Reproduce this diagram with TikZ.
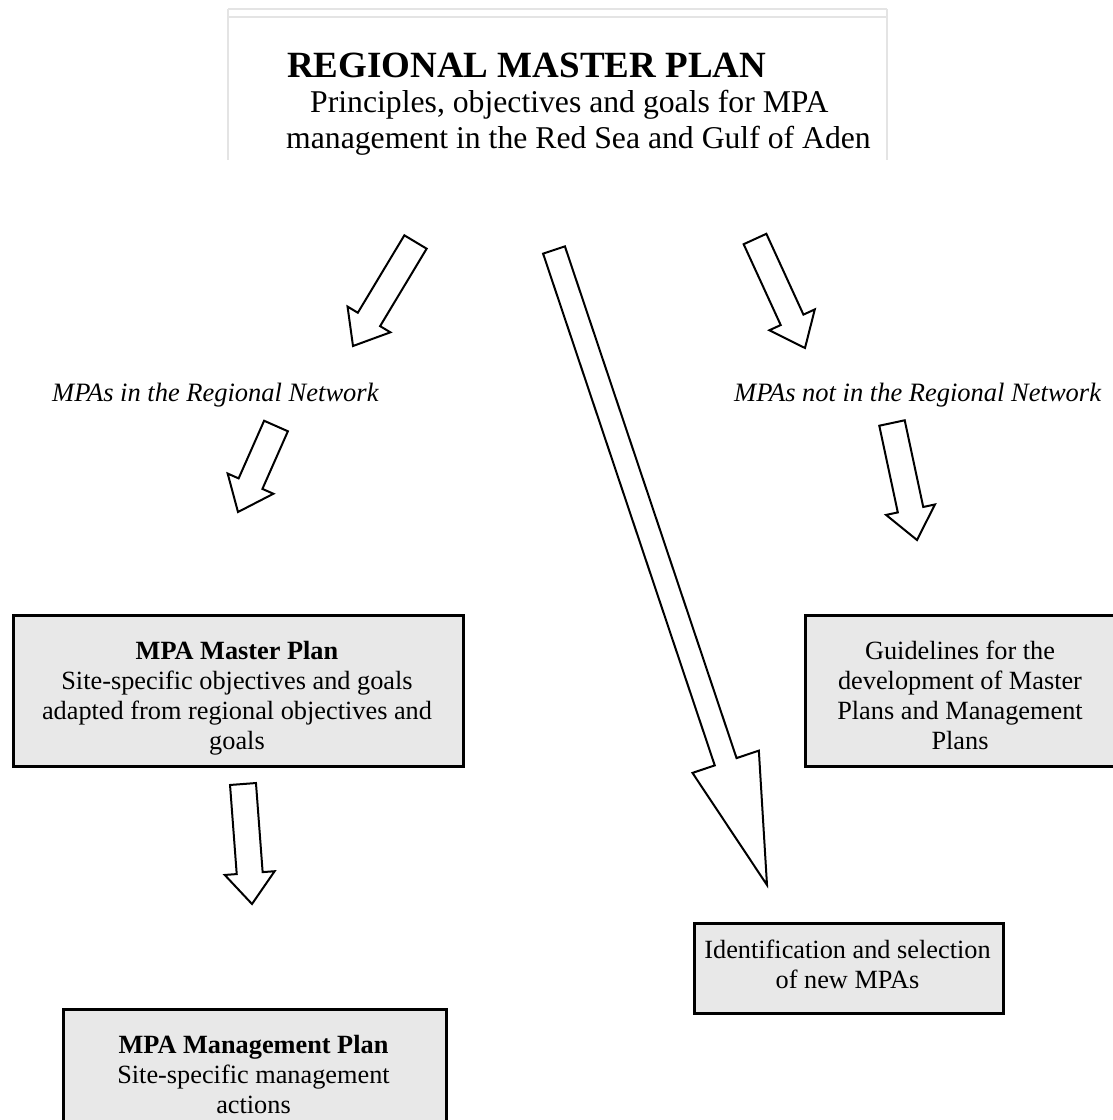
\documentclass[tikz,border=0pt]{standalone}
\usepackage{fontspec}
\setmainfont{Liberation Serif}
\usetikzlibrary{calc}
\definecolor{boxfill}{RGB}{232,232,232}
\definecolor{topline}{RGB}{228,228,228}
\newcommand\myblockarrow[5]{%
  \coordinate (#1h) at ($(#2)!#5!(#1)$);
  \draw[blockarr] ($(#1)!#3!90:(#2)$) -- ($(#1h)!#3!90:(#2)$) -- ($(#1h)!#4!90:(#2)$) -- (#2)
    -- ($(#1h)!#4!-90:(#2)$) -- ($(#1h)!#3!-90:(#2)$) -- ($(#1)!#3!-90:(#2)$) -- cycle;}
\begin{document}
\begin{tikzpicture}[x=1pt,y=1pt,
  blockarr/.style={draw=black, line width=2pt, fill=white, line join=miter},
  plainbox/.style={draw=black, line width=2.5pt, fill=boxfill, inner sep=0pt, anchor=north west},
  txt/.style={inner sep=0pt, anchor=base},
  small/.style={font=\fontsize{26.3}{30}\selectfont},
  smallb/.style={font=\fontsize{26.3}{30}\selectfont\bfseries},
  smalli/.style={font=\fontsize{26.5}{30}\selectfont\itshape},
  topfont/.style={font=\fontsize{31.7}{36}\selectfont},
]
\useasboundingbox (0,0) rectangle (1112,-1120);

% top box (light grey frame)
\draw[topline, line width=2pt] (228,-9) -- (887,-9);
\draw[topline, line width=2pt] (228,-17) -- (887,-17);
\draw[topline, line width=2pt] (228,-9) -- (228,-160);
\draw[topline, line width=2pt] (887,-9) -- (887,-160);
\node[txt, anchor=base west, font=\fontsize{37}{40}\selectfont\bfseries] (title) at (287,-77) {REGIONAL MASTER PLAN};
\node[txt, anchor=base west, topfont] (sub1) at (310,-112) {Principles, objectives and goals for MPA};
\node[txt, anchor=base west, topfont] (sub2) at (286,-148) {management in the Red Sea and Gulf of Aden};

% labels
\node[txt, anchor=base west, smalli] (lin) at (52,-401) {MPAs in the Regional Network};
\node[txt, anchor=base west, smalli] (lout) at (734,-401) {MPAs not in the Regional Network};

% boxes
\node[plainbox, minimum width=450, minimum height=151] (mmp) at (12,-614) {};
\node[txt, smallb] (mmp1) at (237,-659) {MPA Master Plan};
\node[txt, small] (mmp2) at (237,-689) {Site-specific objectives and goals};
\node[txt, small] (mmp3) at (237,-719) {adapted from regional objectives and};
\node[txt, small] (mmp4) at (237,-749) {goals};

\node[plainbox, minimum width=320, minimum height=151] (gd) at (804,-614) {};
\node[txt, small] (gd1) at (960,-659) {Guidelines for the};
\node[txt, small] (gd2) at (960,-689) {development of Master};
\node[txt, small] (gd3) at (960,-719) {Plans and Management};
\node[txt, small] (gd4) at (960,-749) {Plans};

\node[plainbox, minimum width=309, minimum height=90] (idb) at (693,-922) {};
\node[txt, small] (id1) at (847.5,-958) {Identification and selection};
\node[txt, small] (id2) at (847.5,-988) {of new MPAs};

\node[plainbox, minimum width=383, minimum height=130] (mgp) at (62,-1008) {};
\node[txt, smallb] (mgp1) at (253.5,-1053) {MPA Management Plan};
\node[txt, small] (mgp2) at (253.5,-1083) {Site-specific management};
\node[txt, small] (mgp3) at (253.5,-1113) {actions};

% block arrows
\coordinate (aAt) at (415.5,-242); \coordinate (aAp) at (353,-346);
\coordinate (aBt) at (554,-250);   \coordinate (aBp) at (767,-885);
\coordinate (aCt) at (755,-239);   \coordinate (aCp) at (805,-348);
\coordinate (aDt) at (276,-426);   \coordinate (aDp) at (238,-512);
\coordinate (aEt) at (892,-423);   \coordinate (aEp) at (917,-540);
\coordinate (aFt) at (243,-784);   \coordinate (aFp) at (252,-904);
\myblockarrow{aAt}{aAp}{13pt}{25pt}{31pt}
\myblockarrow{aBt}{aBp}{11.5pt}{35pt}{130pt}
\myblockarrow{aCt}{aCp}{12.5pt}{25pt}{31pt}
\myblockarrow{aDt}{aDp}{13pt}{25pt}{31pt}
\myblockarrow{aEt}{aEp}{13pt}{25pt}{31pt}
\myblockarrow{aFt}{aFp}{13pt}{25pt}{31pt}
\end{tikzpicture}
\end{document}
